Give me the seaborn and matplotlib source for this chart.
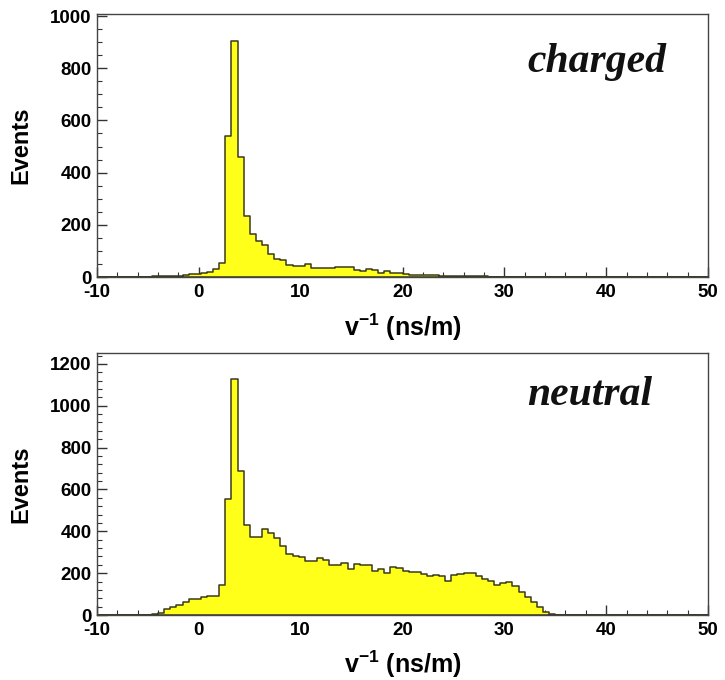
import numpy as np
import pandas as pd
import matplotlib
matplotlib.use("Agg")
import matplotlib.pyplot as plt
from matplotlib.ticker import MultipleLocator
import seaborn as sns

# ---- data -------------------------------------------------------------
x_min, x_max, n_bins = -10.0, 50.0, 100

charged_counts = [
    0, 0, 0, 0, 1, 1, 1, 1, 1, 2,
    2, 3, 3, 4, 7, 11, 12, 16, 18, 30,
    55, 540, 905, 460, 235, 165, 137, 121, 89, 70,
    66, 45, 42, 41, 50, 36, 35, 35, 34, 37,
    37, 37, 26, 24, 29, 28, 16, 24, 16, 14,
    12, 9, 9, 8, 6, 6, 4, 4, 4, 3,
    3, 2, 2, 2, 1, 1, 1, 0, 0, 0,
    0, 0, 0, 0, 0, 0, 0, 0, 0, 0,
    0, 0, 0, 0, 0, 0, 0, 0, 0, 0,
    0, 0, 0, 0, 0, 0, 0, 0, 0, 0,
]

neutral_counts = [
    0, 0, 0, 0, 0, 0, 0, 1, 2, 4,
    11, 27, 37, 48, 62, 78, 78, 85, 90, 90,
    144, 553, 1128, 686, 431, 375, 375, 410, 391, 367,
    330, 292, 282, 279, 260, 260, 271, 263, 239, 239,
    247, 220, 242, 239, 239, 212, 218, 200, 228, 225,
    212, 204, 204, 196, 188, 191, 185, 164, 191, 196,
    199, 199, 185, 172, 164, 144, 153, 159, 140, 112,
    85, 61, 37, 16, 5, 1, 0, 0, 0, 0,
    0, 0, 0, 0, 0, 0, 0, 0, 0, 0,
    0, 0, 0, 0, 0, 0, 0, 0, 0, 0,
]

panel_labels = ["charged", "neutral"]
y_limits = [1008, 1252]
y_major = [200, 200]
y_minor = [50, 40]
x_label = r"v$^{\mathbf{-1}}$ (ns/m)"
y_label = "Events"

edges = np.linspace(x_min, x_max, n_bins + 1)
centers = 0.5 * (edges[:-1] + edges[1:])

# ---- style ------------------------------------------------------------
sns.set_style("white")
plt.rcParams["font.family"] = ["Liberation Sans", "DejaVu Sans"]
plt.rcParams["font.weight"] = "bold"
plt.rcParams["axes.unicode_minus"] = False
plt.rcParams["mathtext.fontset"] = "custom"
plt.rcParams["mathtext.rm"] = "Liberation Sans:bold"
plt.rcParams["mathtext.bf"] = "Liberation Sans:bold"
plt.rcParams["mathtext.default"] = "bf"

fig = plt.figure(figsize=(7.25, 6.8), dpi=100)
ax_top = fig.add_axes([97 / 725, 1 - 277 / 680, 611 / 725, 263 / 680])
ax_bot = fig.add_axes([97 / 725, 1 - 615 / 680, 611 / 725, 262 / 680])

fill_color = "#ffff1a"
edge_color = "#3b3a1c"

for ax, counts, lab, ylim, ymaj, ymin, ly in zip(
    [ax_top, ax_bot], [charged_counts, neutral_counts], panel_labels,
    y_limits, y_major, y_minor, [0.779, 0.80]):
    df = pd.DataFrame({"v": centers, "n": counts})
    sns.histplot(data=df, x="v", weights="n", bins=n_bins,
                 binrange=(x_min, x_max), element="step",
                 fill=True, color=fill_color, alpha=1.0,
                 edgecolor=edge_color, linewidth=1.1, ax=ax)
    ax.set_xlim(x_min, x_max)
    ax.set_ylim(0, ylim)
    ax.xaxis.set_major_locator(MultipleLocator(10))
    ax.xaxis.set_minor_locator(MultipleLocator(2))
    ax.yaxis.set_major_locator(MultipleLocator(ymaj))
    ax.yaxis.set_minor_locator(MultipleLocator(ymin))
    ax.tick_params(axis="both", which="both", direction="in",
                   bottom=True, left=True, top=False, right=False,
                   color="#333333", labelcolor="black")
    ax.tick_params(axis="both", which="major", length=7, width=1,
                   labelsize=13.5, pad=4)
    ax.tick_params(axis="x", which="major", pad=5)
    ax.tick_params(axis="both", which="minor", length=3.5, width=0.8)
    for lbl in ax.get_xticklabels() + ax.get_yticklabels():
        lbl.set_fontweight("bold")
    for sp in ax.spines.values():
        sp.set_visible(True)
        sp.set_color("#444444")
        sp.set_linewidth(1.0)
    ax.set_xlabel(x_label, fontsize=18, fontweight="bold", color="black")
    ax.set_ylabel(y_label, fontsize=17, fontweight="bold", color="black")
    ax.yaxis.set_label_coords(-0.106, 0.5)
    ax.xaxis.set_label_coords(0.5, -0.13)
    ax.text(0.704, ly, lab, transform=ax.transAxes, ha="left", va="baseline",
            family=["Liberation Serif", "DejaVu Serif"], fontsize=30,
            fontweight="bold", style="italic", color="#111111")

fig.savefig("out.png", dpi=100, facecolor="white")
